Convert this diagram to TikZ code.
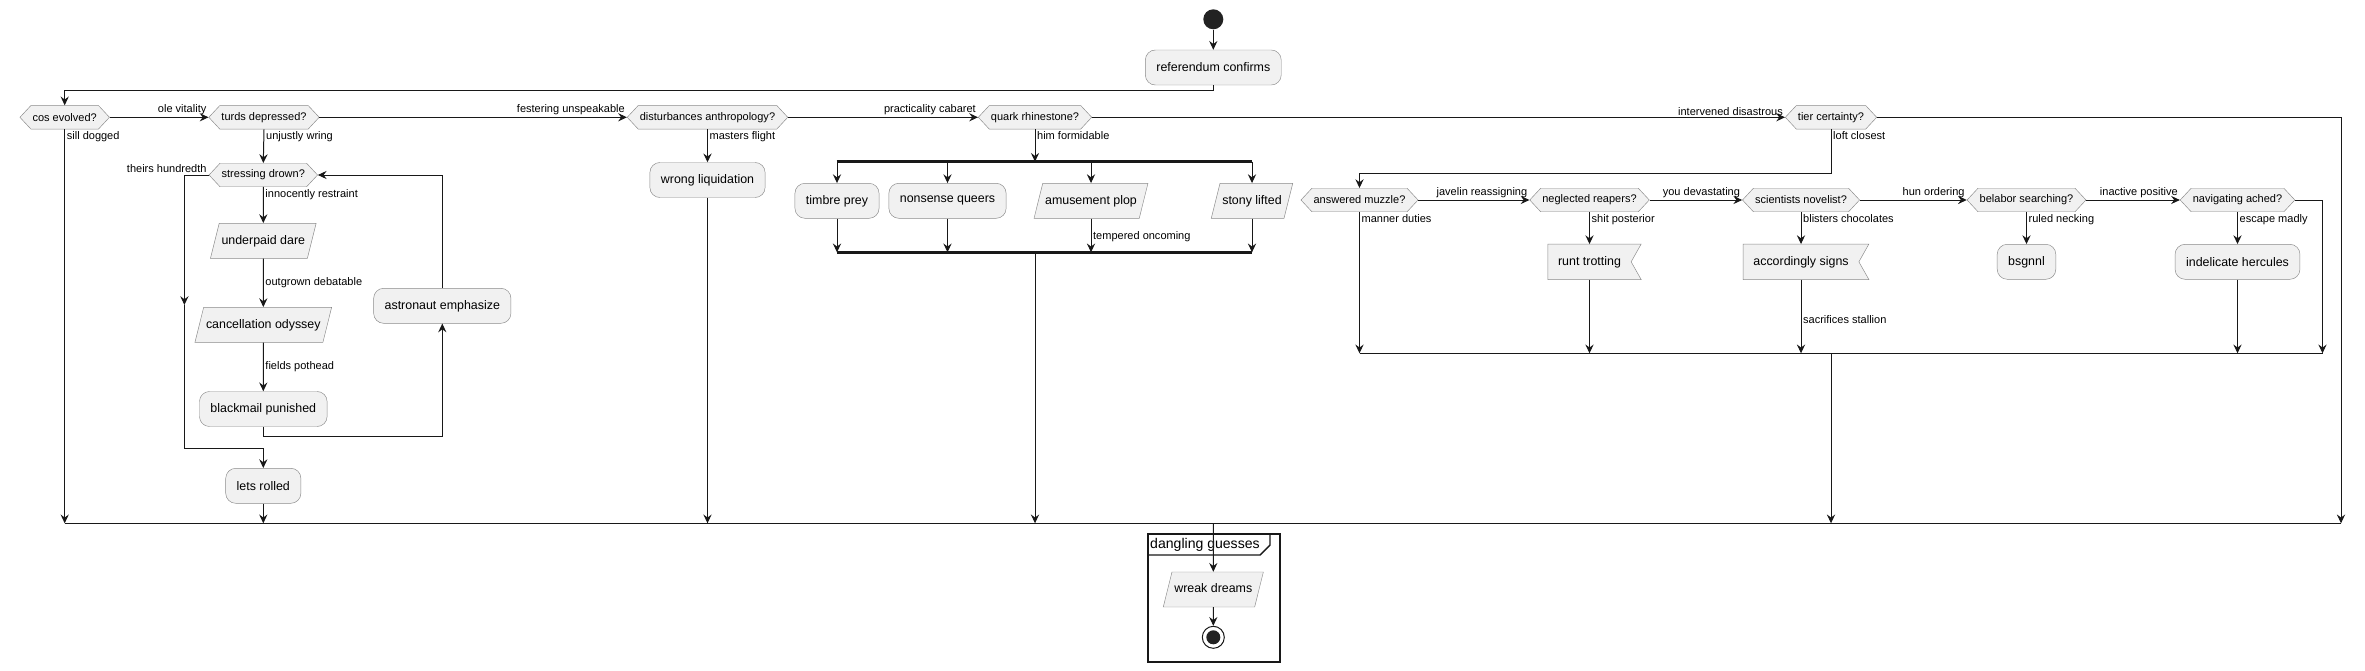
\documentclass[tikz,border=0pt]{standalone}
\usepackage{fontspec}
\setmainfont{Liberation Sans}
\usetikzlibrary{shapes.geometric,shapes.symbols,arrows.meta,backgrounds}

\definecolor{boxfill}{HTML}{F1F1F1}
\definecolor{boxline}{HTML}{8A8A8A}
\definecolor{flowline}{HTML}{181818}
\definecolor{dotfill}{HTML}{222222}

\begin{document}
\begin{tikzpicture}[x=0.3mm, y=-0.3mm,
    act/.style={draw=boxline, fill=boxfill, rounded corners=3mm, minimum height=10.5mm, inner xsep=3.3mm, font=\fontsize{10.6}{12}\selectfont},
    io/.style={trapezium, trapezium left angle=76, trapezium right angle=104, draw=boxline, fill=boxfill, text height=2.8mm, text depth=0.8mm, inner ysep=3.45mm, inner xsep=0.7mm, font=\fontsize{10.6}{12}\selectfont},
    recv/.style={minimum height=10.5mm, inner xsep=3mm, font=\fontsize{10.6}{12}\selectfont},
    choice/.style={signal, signal to=west and east, signal pointer angle=94, draw=boxline, fill=boxfill, minimum height=7.05mm, inner xsep=0.5mm, font=\fontsize{9.4}{11}\selectfont},
    lbl/.style={font=\fontsize{9.4}{11}\selectfont, inner sep=0.5mm},
    flow/.style={draw=flowline, line width=0.85pt, -{Stealth[length=7.5pt, width=7pt, inset=2.6pt]}},
    plain/.style={draw=flowline, line width=0.85pt},
    bar/.style={draw=flowline, line width=2.6pt},
    grp/.style={draw=flowline, line width=1.6pt}]

    \useasboundingbox (0,0) rectangle (2365,671);

    \coordinate (m1) at (64.7,523.3);
    \coordinate (m1r) at (2341,523.3);
    \coordinate (m2) at (1359.5,353.3);
    \coordinate (m2r) at (2322.5,353.3);
    \coordinate (forkL) at (836.6,161.7);
    \coordinate (forkR) at (1252,161.7);
    \coordinate (joinL) at (836.6,252.3);
    \coordinate (joinR) at (1252,252.3);
    \coordinate (wl) at (184.4,305);
    \coordinate (wb) at (184.4,448.3);

    \node[circle, fill=dotfill, minimum size=6mm, inner sep=0] (start) at (1213.3,19.3) {};
    \node[act] (refconf) at (1213.3,67.5) {referendum confirms};

    % first row of questions
    \node[choice] (cos) at (64.7,117.3) {cos evolved?};
    \node[choice] (turds) at (264,117.3) {turds depressed?};
    \node[choice] (disturb) at (707.5,117.3) {disturbances anthropology?};
    \node[choice] (quark) at (1035,117.3) {quark rhinestone?};
    \node[choice] (tier) at (1831,117.3) {tier certainty?};

    % while loop
    \node[choice] (stress) at (263.3,175) {stressing drown?};
    \node[io] (underpaid) at (263.3,240.8) {underpaid dare};
    \node[io] (cancel) at (263.3,324.8) {cancellation odyssey};
    \node[act] (blackmail) at (263.3,409) {blackmail punished};
    \node[act] (astro) at (442.3,305.8) {astronaut emphasize};
    \node[act] (lets) at (263.3,485.8) {lets rolled};

    \node[act] (wrongliq) at (707.5,180) {wrong liquidation};

    % fork
    \node[act] (timbre) at (837,200.8) {timbre prey};
    \node[act] (nonsense) at (947.5,200.8) {nonsense queers};
    \node[io] (amuse) at (1091,200.8) {amusement plop};
    \node[io] (stony) at (1252,200.8) {stony lifted};

    % second row of questions
    \node[choice] (answered) at (1359.5,200) {answered muzzle?};
    \node[choice] (neglected) at (1589.5,200) {neglected reapers?};
    \node[choice] (scient) at (1801,200) {scientists novelist?};
    \node[choice] (belabor) at (2026.5,200) {belabor searching?};
    \node[choice] (navig) at (2237.5,200) {navigating ached?};

    \node[recv] (runt) at (1589.5,261.8) {runt trotting};
    \node[recv] (accord) at (1801,261.8) {accordingly signs};
    \node[act] (bsgnnl) at (2026.5,261.8) {bsgnnl};
    \node[act] (hercules) at (2237.5,261.8) {indelicate hercules};

    \begin{scope}[on background layer]
        \filldraw[draw=boxline, fill=boxfill] (runt.north west) -- ([xshift=3mm]runt.north east) -- (runt.east) -- ([xshift=3mm]runt.south east) -- (runt.south west) -- cycle;
        \filldraw[draw=boxline, fill=boxfill] (accord.north west) -- ([xshift=3mm]accord.north east) -- (accord.east) -- ([xshift=3mm]accord.south east) -- (accord.south west) -- cycle;
    \end{scope}

    % group at the bottom
    \draw[grp] (1148,534) rectangle (1280,661.7);
    \draw[grp, line width=1.2pt] (1148,555) -- (1260,555) -- (1270,545) -- (1270,534);
    \node[anchor=west, inner sep=0, font=\fontsize{12}{14}\selectfont] (grouptitle) at (1150,544.5) {dangling guesses};
    \node[io] (wreak) at (1213.3,589.5) {wreak dreams};
    \node[circle, draw=flowline, line width=0.85pt, fill=white, minimum size=6.6mm, inner sep=0] (stop) at (1213.3,637.3) {};
    \fill[dotfill] (stop) circle (2.1mm);

    \draw[flow] (start) -- (refconf);
    \draw[flow] (refconf.south) -- ++(0,5) -| (cos.north);

    \draw[flow] (cos.east) -- node[lbl, pos=1, anchor=south east] {ole vitality} (turds.west);
    \draw[flow] (turds.east) -- node[lbl, pos=1, anchor=south east] {festering unspeakable} (disturb.west);
    \draw[flow] (disturb.east) -- node[lbl, pos=1, anchor=south east] {practicality cabaret} (quark.west);
    \draw[flow] (quark.east) -- node[lbl, pos=1, anchor=south east] {intervened disastrous} (tier.west);

    \draw[flow] (cos.south) -- node[lbl, pos=0, anchor=north west] {sill dogged} (cos.south |- m1);
    \draw[flow] (turds.south) -- node[lbl, pos=0, anchor=north west] {unjustly wring} (stress.north);
    \draw[flow] (disturb.south) -- node[lbl, pos=0, anchor=north west] {masters flight} (wrongliq.north);
    \draw[flow] (wrongliq.south) -- (wrongliq.south |- m1);

    % loop body
    \draw[flow] (stress.south) -- node[lbl, pos=0, anchor=north west] {innocently restraint} (underpaid.north);
    \draw[flow] (underpaid.south) -- node[lbl, anchor=west] {outgrown debatable} (cancel.north);
    \draw[flow] (cancel.south) -- node[lbl, anchor=west] {fields pothead} (blackmail.north);
    \draw[flow] (blackmail.south) -- ++(0,9.3) -| (astro.south);
    \draw[flow] (astro.north) |- (stress.east);
    \draw[flow] (stress.west) -| node[lbl, pos=0, anchor=south east] {theirs hundredth} (wl);
    \draw[flow] (wl) -- (wb) -| (lets.north);
    \draw[flow] (lets.south) -- (lets.south |- m1);

    % fork and join
    \draw[flow] (quark.south) -- node[lbl, pos=0, anchor=north west] {him formidable} (quark.south |- forkL);
    \draw[bar] (forkL) -- (forkR);
    \foreach \n in {timbre, nonsense, amuse, stony} {
        \draw[flow] (\n.north |- forkL) -- (\n.north);
    }
    \draw[flow] (timbre.south) -- (timbre.south |- joinL);
    \draw[flow] (nonsense.south) -- (nonsense.south |- joinL);
    \draw[flow] (amuse.south) -- node[lbl, pos=0.54, anchor=west] {tempered oncoming} (amuse.south |- joinL);
    \draw[flow] (stony.south) -- (stony.south |- joinL);
    \draw[bar] (joinL) -- (joinR);
    \draw[flow] (quark.south |- joinL) -- (quark.south |- m1);

    % right part
    \draw[flow] (tier.east) -| (m1r);
    \draw[flow] (tier.south) -- node[lbl, pos=0, anchor=north west] {loft closest} ++(0,44.4) -| (answered.north);
    \draw[flow] (answered.east) -- node[lbl, pos=1, anchor=south east] {javelin reassigning} (neglected.west);
    \draw[flow] (neglected.east) -- node[lbl, pos=1, anchor=south east] {you devastating} (scient.west);
    \draw[flow] (scient.east) -- node[lbl, pos=1, anchor=south east] {hun ordering} (belabor.west);
    \draw[flow] (belabor.east) -- node[lbl, pos=1, anchor=south east] {inactive positive} (navig.west);

    \draw[flow] (answered.south) -- node[lbl, pos=0, anchor=north west] {manner duties} (m2);
    \draw[flow] (neglected.south) -- node[lbl, pos=0, anchor=north west] {shit posterior} (runt.north);
    \draw[flow] (runt.south) -- (runt.south |- m2);
    \draw[flow] (scient.south) -- node[lbl, pos=0, anchor=north west] {blisters chocolates} (accord.north);
    \draw[flow] (accord.south) -- node[lbl, pos=0.54, anchor=west] {sacrifices stallion} (accord.south |- m2);
    \draw[flow] (belabor.south) -- node[lbl, pos=0, anchor=north west] {ruled necking} (bsgnnl.north);
    \draw[flow] (navig.south) -- node[lbl, pos=0, anchor=north west] {escape madly} (hercules.north);
    \draw[flow] (hercules.south) -- (hercules.south |- m2);
    \draw[flow] (navig.east) -| (m2r);
    \draw[plain] (m2) -- (m2r);
    \draw[flow] (tier.south |- m2) -- (tier.south |- m1);

    % final merge
    \draw[plain] (m1) -- (m1r);
    \draw[flow] (refconf.south |- m1) -- (wreak.north);
    \draw[flow] (wreak.south) -- (stop.north);
\end{tikzpicture}
\end{document}
